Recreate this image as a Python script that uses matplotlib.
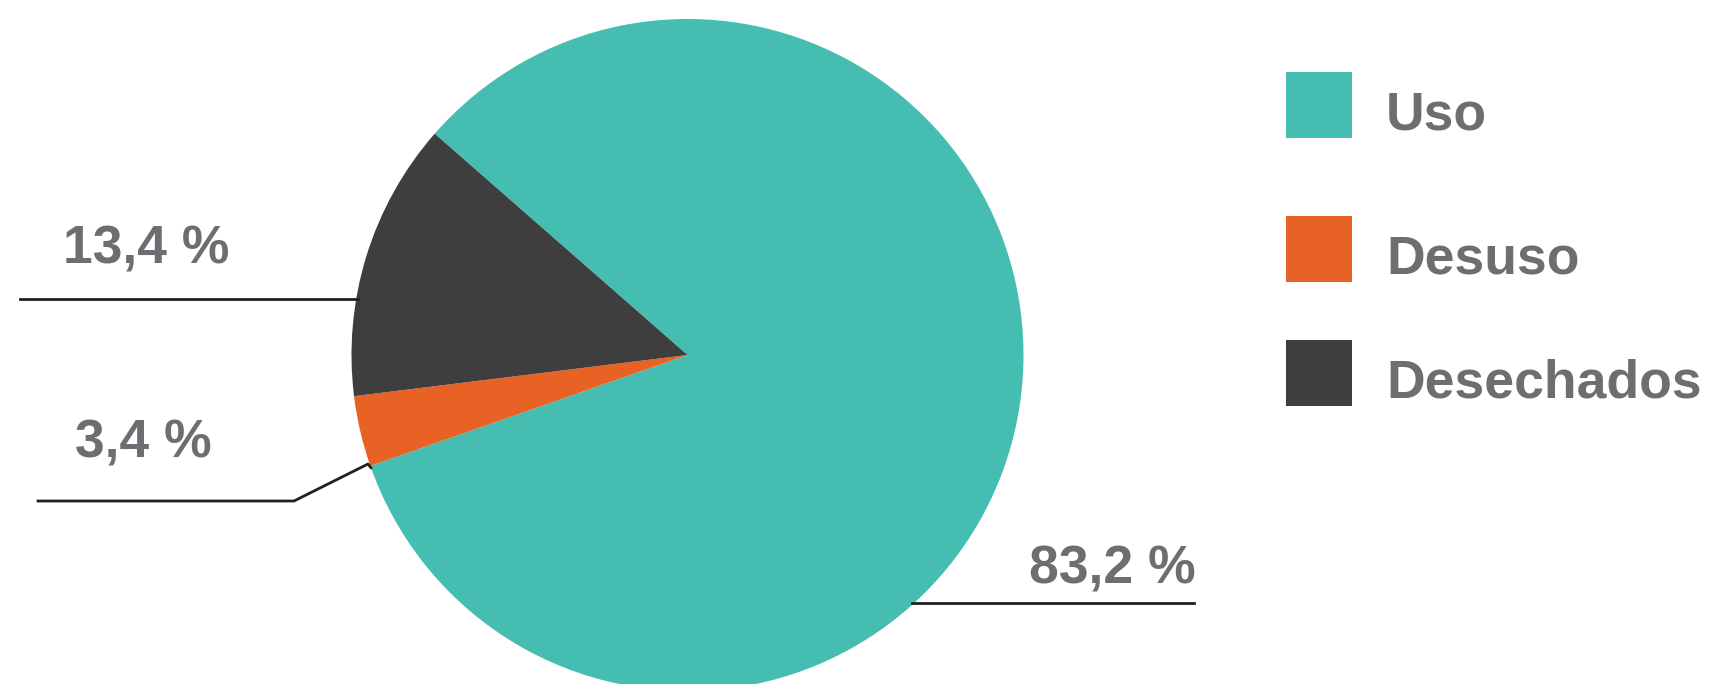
import numpy as np
import matplotlib.pyplot as plt
from matplotlib.patches import Rectangle

# data
labels = ['Uso', 'Desuso', 'Desechados']
values = [83.2, 3.4, 13.4]
pct_labels = ['83,2 %', '3,4 %', '13,4 %']
colors = ['#45BEB1', '#E86125', '#3E3E3E']

text_color = '#6D6E71'
line_color = '#231F20'
plt.rcParams['font.family'] = ['Liberation Sans', 'DejaVu Sans']

W, H = 1711, 684
fig = plt.figure(figsize=(W / 100, H / 100), dpi=100)
ax = fig.add_axes([0, 0, 1, 1])

# pie in pixel coords (y up)
cx, cy, r = 687.5, H - 355, 336
wedges, _ = ax.pie(values, colors=colors, startangle=138.8, counterclock=False,
                   center=(cx, cy), radius=r, frame=True,
                   wedgeprops=dict(linewidth=0))
ax.set_xlim(0, W)
ax.set_ylim(0, H)
ax.set_aspect('equal')
ax.axis('off')


def edge_x(y, side):
    dy = y - cy
    return cx + side * np.sqrt(r ** 2 - dy ** 2)


fs = 38.5
lw = 2.0
# 83,2 %
y = H - 603
ax.plot([edge_x(y, 1) - 2, 1194], [y, y], color=line_color, lw=lw)
ax.text(1029, H - 583, pct_labels[0], color=text_color, fontsize=fs,
        fontweight='bold', ha='left', va='baseline')

# 3,4 %
ang = np.deg2rad(199.6)
ex, ey = cx + r * np.cos(ang), cy + r * np.sin(ang)
ax.plot([38, 294, 368, ex], [H - 501, H - 501, H - 464, ey],
        color=line_color, lw=lw)
ax.text(75, H - 458, pct_labels[1], color=text_color, fontsize=fs,
        fontweight='bold', ha='left', va='baseline')

# 13,4 %
y = H - 299
ax.plot([20, edge_x(y, -1) + 2], [y, y], color=line_color, lw=lw)
ax.text(63, H - 264, pct_labels[2], color=text_color, fontsize=fs,
        fontweight='bold', ha='left', va='baseline')

# legend
box_tops = [72, 216, 340]
for lab, col, top in zip(labels, colors, box_tops):
    ax.add_patch(Rectangle((1286, H - top - 66), 66, 66, color=col, lw=0))
    ax.text(1386, H - top - 57, lab, color=text_color, fontsize=fs,
            fontweight='bold', ha='left', va='baseline')

fig.savefig('out.png', dpi=100)
